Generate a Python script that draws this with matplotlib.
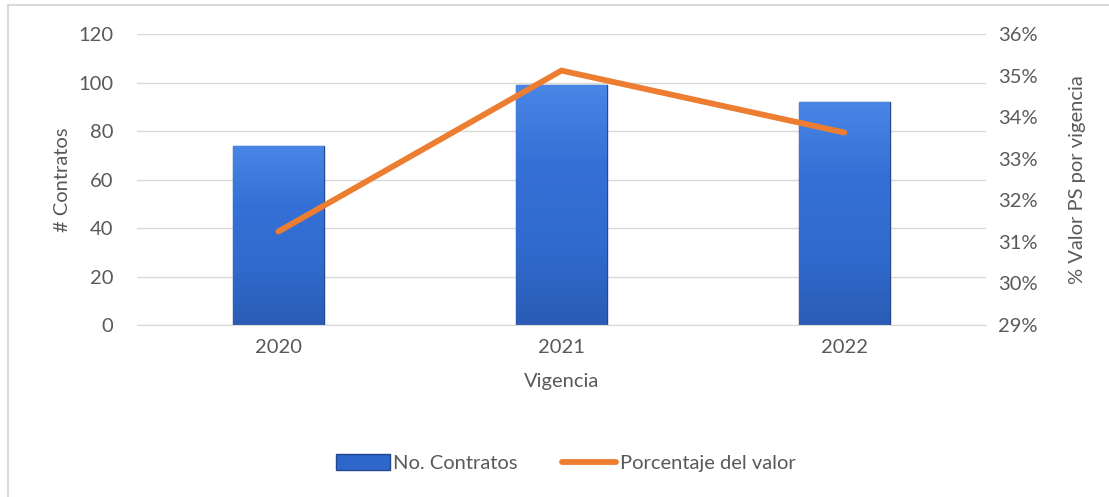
import numpy as np
import matplotlib.pyplot as plt
from matplotlib.colors import LinearSegmentedColormap
from matplotlib.lines import Line2D

years = ['2020', '2021', '2022']
contratos = [74, 99, 92]
porcentaje = [31.25, 35.12, 33.63]

gray = '#595959'
fs = 14.5
plt.rcParams['font.family'] = ['Lato', 'DejaVu Sans']
plt.rcParams['font.size'] = fs

fig = plt.figure(figsize=(11.09, 4.97), dpi=100)
ax = fig.add_axes([0.1235, 0.346, 0.7655, 0.5856])
ax2 = ax.twinx()

x = np.arange(len(years))
bars = ax.bar(x, contratos, width=0.32, color='#2F66C9', edgecolor='#22488F',
              linewidth=1.0, zorder=2, label='No. Contratos')

# bevel-like gradient on the bars
grad = np.linspace(0, 1, 256).reshape(-1, 1)
cmap = LinearSegmentedColormap.from_list('bb', ['#2A5CB5', '#316BCF', '#3570D6', '#4A86E6'])
for b in bars:
    x0, y0 = b.get_x(), b.get_y()
    w, h = b.get_width(), b.get_height()
    im = ax.imshow(grad, extent=[x0, x0 + w, y0, y0 + h], aspect='auto',
                   cmap=cmap, origin='lower', zorder=2.1)
    im.set_clip_path(b)

ax.set_xlim(-0.5, 2.5)
ax.set_ylim(0, 120)
ax.set_yticks(range(0, 121, 20))
ax.set_xticks(x)
ax.set_xticklabels(years)
ax.grid(axis='y', color='#D9D9D9', linewidth=1, zorder=0)
ax.set_axisbelow(True)
for s in ['top', 'left', 'right']:
    ax.spines[s].set_visible(False)
ax.spines['bottom'].set_color('#D9D9D9')
ax.tick_params(axis='both', length=0, colors=gray, labelsize=fs)
ax.tick_params(axis='y', pad=17)
ax.tick_params(axis='x', pad=10)
ax.set_ylabel('# Contratos', color=gray, fontsize=fs, labelpad=5)
ax.set_xlabel('Vigencia', color=gray, fontsize=fs, labelpad=12)

ax2.plot(x, porcentaje, color='#ED7D31', linewidth=4.2, solid_capstyle='round',
         solid_joinstyle='miter', zorder=3, label='Porcentaje del valor')
ax2.set_ylim(29, 36)
ax2.set_yticks(range(29, 37))
ax2.set_yticklabels([f'{v}%' for v in range(29, 37)])
for s in ax2.spines.values():
    s.set_visible(False)
ax2.tick_params(axis='y', length=0, colors=gray, labelsize=fs, pad=9)
ax2.set_ylabel('% Valor PS por vigencia', color=gray, fontsize=fs, labelpad=22)

h1, l1 = ax.get_legend_handles_labels()
h2, l2 = ax2.get_legend_handles_labels()
fig.legend(h1 + h2, l1 + l2, loc='center', bbox_to_anchor=(0.51, 0.068), ncol=2,
           frameon=False, fontsize=fs, labelcolor=gray, handlelength=2.7,
           handletextpad=0.15, columnspacing=2.2, handleheight=0.8)

# chart border (left and top edge visible)
fig.add_artist(Line2D([0.0068, 0.0068], [0, 0.99], color='#D9D9D9', linewidth=1.5,
                      transform=fig.transFigure))
fig.add_artist(Line2D([0.0068, 1], [0.99, 0.99], color='#D9D9D9', linewidth=1.5,
                      transform=fig.transFigure))

fig.savefig('out.png', dpi=100)
